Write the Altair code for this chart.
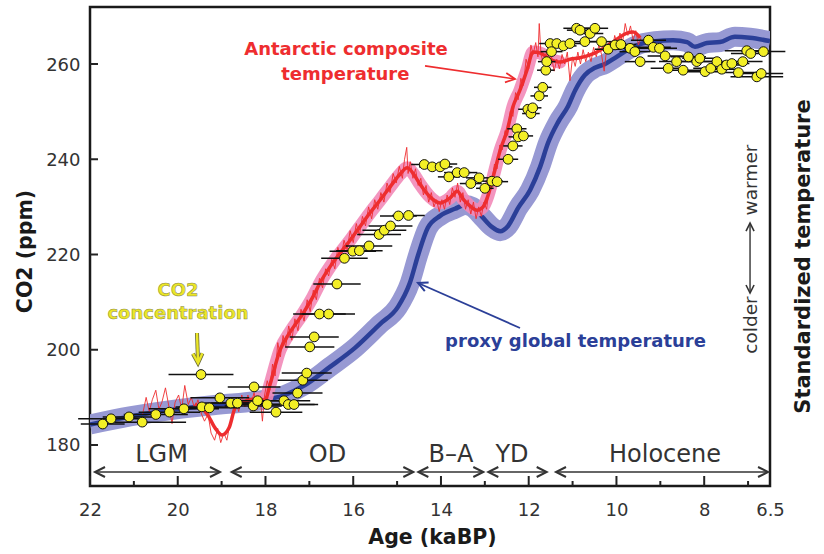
import altair as alt
import pandas as pd

FONT = "DejaVu Sans"

# ---------------- data ----------------
# CO2 concentration (ppm) and age uncertainty (+/- kyr)
co2_age = [21.71, 21.52, 21.11, 20.81, 20.50, 20.19, 19.86, 19.47, 19.45, 19.28, 19.04, 18.79,
           18.64, 18.26, 18.28, 18.18, 17.96, 17.76, 17.58, 17.48, 17.35, 17.27, 17.15, 17.06,
           16.99, 16.89, 16.77, 16.56, 16.37, 16.20, 16.01, 15.86, 15.64, 15.41, 15.29, 15.15, 14.97, 14.74,
           14.38, 14.20, 14.02, 13.91, 13.82, 13.63, 13.47, 13.32, 13.13, 13.00, 12.84, 12.72,
           12.47, 12.36, 12.27, 12.24, 12.12, 12.02, 11.95, 11.91, 11.76, 11.68, 11.61, 11.59,
           11.51, 11.48, 11.36, 11.21, 11.06, 10.91,
           10.83, 10.72, 10.60, 10.49, 10.34, 10.19, 10.03, 9.90, 9.69, 9.58, 9.46, 9.27, 9.16, 9.02,
           8.89, 8.82, 8.63, 8.48, 8.36, 8.17, 8.10, 7.98, 7.85, 7.71, 7.60, 7.49, 7.37, 7.22, 7.12,
           7.03, 6.94, 6.80, 6.70, 6.65]
co2_ppm = [184.4, 185.5, 185.9, 184.8, 186.4, 186.9, 187.6, 194.8, 188.0, 187.8, 189.9, 188.8,
           188.8, 192.2, 188.2, 189.3, 188.5, 186.9, 189.3, 188.5, 188.5, 190.9, 193.6, 195.1,
           200.6, 202.7, 207.5, 207.5, 213.8, 219.2, 220.7, 220.8, 221.8, 224.2, 225.1, 226.0, 228.1, 228.2,
           238.9, 238.4, 238.4, 239.0, 236.3, 237.2, 237.2, 234.9, 236.1, 233.9, 235.4, 235.3,
           240.0, 242.8, 246.4, 244.7, 244.9, 250.5, 249.6, 250.8, 253.3, 255.1, 258.7, 260.5,
           264.3, 262.6, 264.3, 263.8, 264.3, 267.5,
           267.1, 264.7, 266.4, 267.5, 264.7, 263.1, 264.0, 264.1, 263.3, 262.6, 260.5, 265.0, 263.5, 263.3,
           261.7, 259.1, 260.5, 258.7, 261.5, 260.5, 261.2, 258.4, 259.1, 260.5, 258.9, 259.8, 260.1, 258.2, 260.5,
           262.8, 262.2, 257.3, 258.0, 262.6]
co2_err = [0.5, 0.75, 0.6, 1.0, 0.73, 0.7, 0.8, 0.74, 0.6, 0.7, 0.67, 0.6,
           0.6, 0.6, 0.65, 0.6, 0.65, 0.6, 0.6, 0.6, 0.55, 0.57, 0.57, 0.57,
           0.56, 0.56, 0.6, 0.6, 0.54, 0.53, 0.53, 0.53, 0.53, 0.5, 0.5, 0.5, 0.42, 0.37,
           0.3, 0.3, 0.28, 0.28, 0.25, 0.3, 0.3, 0.25, 0.3, 0.2, 0.25, 0.25,
           0.23, 0.22, 0.22, 0.22, 0.22, 0.22, 0.2, 0.2, 0.2, 0.2, 0.2, 0.2,
           0.25, 0.25, 0.28, 0.3, 0.3, 0.3,
           0.3, 0.3, 0.3, 0.3, 0.3, 0.3, 0.35, 0.35, 0.35, 0.35, 0.35, 0.4, 0.4, 0.4,
           0.4, 0.4, 0.4, 0.4, 0.4, 0.4, 0.4, 0.4, 0.4, 0.4, 0.4, 0.4, 0.4, 0.45, 0.45,
           0.5, 0.45, 0.6, 0.5, 0.5]

# proxy global temperature (drawn on the CO2 scale)
glob_age = [22.00, 21.09, 19.95, 19.04, 18.24, 17.56, 17.10, 16.53, 15.96, 15.39, 14.98, 14.71,
            14.52, 14.30, 14.02, 13.68, 13.45, 13.29, 13.06, 12.84, 12.65, 12.47, 12.24, 11.97,
            11.74, 11.56, 11.33, 11.10, 10.94, 10.72, 10.49, 10.26, 10.03, 9.76, 9.46, 9.12,
            8.71, 8.39, 8.21, 7.94, 7.64, 7.30, 6.96, 6.50]
glob_val = [184.3, 186.0, 187.6, 188.5, 189.2, 190.5, 192.6, 196.4, 200.4, 205.4, 209.0, 214.0,
            219.9, 225.6, 228.1, 229.6, 230.4, 230.0, 227.9, 225.8, 224.9, 226.0, 229.8, 233.5,
            238.4, 243.4, 247.8, 251.2, 254.5, 257.7, 259.2, 260.0, 261.3, 262.9, 264.2, 264.8,
            265.0, 264.6, 263.6, 264.4, 264.6, 265.7, 265.5, 264.8]

# Antarctic composite temperature, smoothed
ant_age = [19.61, 19.33, 19.15, 18.99, 18.83, 18.69, 18.47, 18.17, 18.01, 17.90, 17.67, 17.44,
           17.14, 16.92, 16.76, 16.53, 16.30, 16.07, 15.85, 15.62, 15.39, 15.16, 14.93, 14.77,
           14.64, 14.48, 14.25, 14.02, 13.79, 13.63, 13.50, 13.34, 13.18, 13.04, 12.93, 12.81,
           12.65, 12.49, 12.36, 12.20, 12.04, 11.90, 11.74, 11.51, 11.29, 11.06, 10.83, 10.60,
           10.37, 10.08, 9.76, 9.62, 9.46]
ant_val = [188.6, 186.5, 183.6, 182.1, 183.6, 187.8, 189.2, 189.7, 189.4, 192.6, 199.9, 203.7,
           207.7, 211.1, 214.0, 217.4, 220.3, 223.0, 225.8, 228.7, 231.4, 234.2, 236.9, 238.2,
           237.1, 234.8, 232.1, 230.8, 231.9, 233.3, 231.7, 230.2, 229.3, 230.0, 232.3, 236.3,
           241.9, 246.1, 251.0, 254.5, 258.7, 262.5, 262.3, 261.0, 260.4, 261.0, 261.3, 261.9,
           262.9, 264.6, 266.5, 266.7, 265.5]

# Antarctic composite, high-resolution record
antf_age = [20.80, 20.72, 20.65, 20.58, 20.50, 20.43, 20.36, 20.28, 20.20, 20.13, 20.06, 19.98,
            19.91, 19.84, 19.76, 19.69, 19.61, 19.54, 19.46, 19.39, 19.31, 19.24, 19.16, 19.09,
            19.02, 18.95, 18.88, 18.81, 18.74, 18.68, 18.61, 18.54, 18.47, 18.40, 18.33, 18.26,
            18.19, 18.12, 18.07, 18.02, 17.96, 17.90, 17.84, 17.78, 17.72, 17.66, 17.60, 17.54,
            17.47, 17.40, 17.33, 17.26, 17.19, 17.12, 17.05, 16.98, 16.91, 16.84, 16.77, 16.70,
            16.63, 16.56, 16.49, 16.42, 16.35, 16.28, 16.21, 16.14, 16.07, 16.00, 15.93, 15.86,
            15.79, 15.72, 15.65, 15.58, 15.51, 15.44, 15.37, 15.30, 15.23, 15.16, 15.09, 15.02,
            14.95, 14.88, 14.83, 14.78, 14.75, 14.70, 14.64, 14.58, 14.52, 14.46, 14.40, 14.34,
            14.28, 14.22, 14.16, 14.10, 14.04, 13.98, 13.92, 13.86, 13.80, 13.74, 13.68, 13.62,
            13.56, 13.50, 13.44, 13.38, 13.32, 13.26, 13.20, 13.14, 13.08, 13.02, 12.96, 12.90,
            12.84, 12.78, 12.72, 12.66, 12.60, 12.54, 12.48, 12.42, 12.36, 12.30, 12.24, 12.18,
            12.12, 12.06, 12.00, 11.95, 11.90, 11.84, 11.79, 11.76, 11.72, 11.66, 11.60, 11.54,
            11.48, 11.42, 11.36, 11.30, 11.24, 11.18, 11.12, 11.06, 11.00, 10.94, 10.88, 10.82,
            10.76, 10.70, 10.64, 10.58, 10.52, 10.46, 10.40, 10.34, 10.28, 10.22, 10.16, 10.10,
            10.04, 9.98, 9.92, 9.86, 9.80, 9.74, 9.68, 9.62, 9.56, 9.50, 9.44]
antf_val = [186.5, 190.0, 187.0, 189.5, 191.5, 187.5, 189.0, 192.0, 188.0, 184.5, 189.0, 190.5,
            187.5, 192.5, 188.5, 190.0, 187.5, 189.5, 186.5, 185.0, 186.5, 182.5, 181.0, 183.5,
            180.5, 182.5, 181.0, 184.5, 186.5, 189.5, 187.0, 190.5, 188.0, 190.5, 188.5, 191.0,
            187.5, 190.0, 185.0, 190.5, 193.5, 191.5, 197.0, 194.5, 201.5, 198.5, 203.0, 200.5,
            205.0, 202.0, 206.5, 204.0, 208.5, 206.0, 210.5, 208.0, 212.5, 210.5, 215.0, 213.0,
            217.0, 215.5, 219.0, 217.0, 221.5, 219.0, 223.0, 221.0, 225.0, 222.5, 226.5, 224.0,
            228.0, 226.0, 230.0, 227.5, 231.5, 229.5, 233.0, 231.0, 235.0, 233.0, 237.0, 235.0,
            238.5, 236.0, 240.0, 242.5, 237.0, 239.5, 236.0, 238.0, 234.5, 236.0, 232.5, 234.5,
            231.0, 233.0, 230.0, 231.5, 229.0, 231.5, 229.5, 232.5, 230.5, 234.0, 232.0, 235.0,
            231.0, 233.0, 229.5, 231.5, 228.5, 231.0, 227.5, 230.0, 228.0, 231.0, 229.5, 234.0,
            235.5, 239.0, 238.0, 243.0, 242.0, 246.0, 245.0, 250.0, 249.0, 254.0, 252.5, 257.0,
            255.5, 261.0, 259.0, 264.0, 262.0, 264.5, 261.5, 268.5, 262.0, 260.0, 262.5, 259.5,
            261.5, 258.5, 261.0, 259.0, 262.0, 260.0, 262.5, 256.5, 261.5, 259.5, 262.5, 260.0,
            263.0, 260.5, 262.5, 260.5, 263.5, 261.5, 264.0, 262.0, 258.5, 263.5, 264.5, 262.5,
            266.0, 264.0, 266.5, 264.5, 268.5, 266.0, 268.0, 265.0, 267.0, 264.0, 265.5]

# climate periods
period_names = ["LGM", "OD", "B\u2013A", "YD", "Holocene"]
period_start = [21.886, 18.770, 14.516, 12.921, 11.378]
period_end = [19.037, 14.630, 13.035, 11.590, 6.545]
period_mid = [20.37, 16.586, 13.771, 12.381, 8.893]

x_label_vals = [22, 20, 18, 16, 14, 12, 10, 8, 6.5]
x_major = [22, 20, 18, 16, 14, 12, 10, 8]
x_minor = [21, 19, 17, 15, 13, 11, 9, 7]
y_tick_vals = [180, 200, 220, 240, 260]

Y_LO, Y_HI = 171.39, 271.97

# ---------------- frames ----------------
pts = pd.DataFrame({"age": co2_age, "val": co2_ppm, "err": co2_err})
pts["lo"] = pts["age"] - pts["err"]
pts["hi"] = pts["age"] + pts["err"]
glob = pd.DataFrame({"age": glob_age, "val": glob_val})
ant = pd.DataFrame({"age": ant_age, "val": ant_val})
pink = ant[(ant["age"] <= 18.2) & (ant["age"] >= 11.25)]
antf = pd.DataFrame({"age": antf_age, "val": antf_val})

xs = alt.Scale(domain=[6.5, 22], reverse=True, nice=False, zero=False)
ys = alt.Scale(domain=[Y_LO, Y_HI], nice=False, zero=False)

x_axis = alt.Axis(values=x_label_vals, format="~g", title="Age (kaBP)", grid=False, domain=False,
                  ticks=False, tickSize=0, labelPadding=15, labelFont=FONT, labelFontSize=18,
                  labelColor="#333333", labelFlush=False, labelOverlap=False,
                  titleFont=FONT, titleFontSize=20.5, titleFontWeight="bold", titleColor="#1a1a1a",
                  titleX=342, titleY=57, titleBaseline="alphabetic", titleAlign="center")
y_axis = alt.Axis(values=y_tick_vals, title="CO2 (ppm)", grid=False, domain=False, ticks=False,
                  tickSize=0, labelPadding=10, labelFont=FONT, labelFontSize=18, labelColor="#333333",
                  labelOverlap=False, labelFlush=False, labelOffset=1,
                  titleFont=FONT, titleFontSize=20.5, titleFontWeight="bold", titleColor="#1a1a1a",
                  titleAngle=270, titleX=-58.5, titleY=244, titleBaseline="alphabetic", titleAlign="center")


def X(f="age"):
    return alt.X(f"{f}:Q", scale=xs, axis=x_axis, title="Age (kaBP)")


def Y(f="val"):
    return alt.Y(f"{f}:Q", scale=ys, axis=y_axis, title="CO2 (ppm)")


CHEV = "M-1,-0.5L0,0L-1,0.5"

blue_band = alt.Chart(glob).mark_line(color="#9799d3", strokeWidth=20, interpolate="monotone",
                                      clip=True, strokeCap="butt").encode(x=X(), y=Y())
blue_line = alt.Chart(glob).mark_line(color="#2b3f98", strokeWidth=4.5, interpolate="monotone",
                                      clip=True).encode(x=X(), y=Y())
pink_band = alt.Chart(pink).mark_line(color="#f28ab8", strokeWidth=13, interpolate="monotone",
                                      opacity=0.9, strokeCap="round").encode(x=X(), y=Y())
red_fine = alt.Chart(antf).mark_line(color="#ee2d2f", strokeWidth=0.9).encode(x=X(), y=Y())
red_line = alt.Chart(ant).mark_line(color="#ee2d2f", strokeWidth=3.5, interpolate="monotone").encode(x=X(), y=Y())

errbars = alt.Chart(pts).mark_rule(color="#111111", strokeWidth=1.5).encode(
    x=X("lo"), x2="hi:Q", y=Y())

points = alt.Chart(pts).mark_circle(size=95, color="#f3ef26", stroke="#111111", strokeWidth=1,
                                    opacity=1).encode(x=X(), y=Y())

# inward ticks
tk_major = pd.DataFrame({"age": x_major, "y0": Y_LO, "y1": Y_LO + 10 / 4.7625})
tk_minor = pd.DataFrame({"age": x_minor, "y0": Y_LO, "y1": Y_LO + 5 / 4.7625})
tk_y = pd.DataFrame({"val": y_tick_vals, "x0": 22.0, "x1": 22.0 - 8 / 43.87})
ticks_major = alt.Chart(tk_major).mark_rule(color="#222222", strokeWidth=2).encode(
    x=X(), y=Y("y0"), y2="y1:Q")
ticks_minor = alt.Chart(tk_minor).mark_rule(color="#222222", strokeWidth=2).encode(
    x=X(), y=Y("y0"), y2="y1:Q")
ticks_y = alt.Chart(tk_y).mark_rule(color="#222222", strokeWidth=2).encode(
    x=X("x0"), x2="x1:Q", y=Y())

# period arrows
ARROW_Y = 174.33
per = pd.DataFrame({"name": period_names, "s": period_start, "e": period_end,
                    "mid": period_mid, "y": ARROW_Y, "ly": 176.43})
per_rules = alt.Chart(per).mark_rule(color="#333333", strokeWidth=1.5).encode(
    x=X("s"), x2="e:Q", y=Y("y"))
heads = pd.DataFrame({"age": period_start + period_end,
                      "val": [ARROW_Y] * 10,
                      "ang": [180] * 5 + [0] * 5})
per_heads = alt.Chart(heads).mark_point(shape=CHEV, filled=False, size=400, color="#333333",
                                        strokeWidth=2, opacity=1).encode(
    x=X(), y=Y(), angle=alt.Angle("ang:Q", scale=None))
per_text = alt.Chart(per).mark_text(font=FONT, fontSize=24, color="#333333", align="center",
                                    baseline="alphabetic").encode(
    x=X("mid"), y=Y("ly"), text="name:N")

# annotations
red_txt = pd.DataFrame({"age": [16.165, 16.18], "val": [261.9, 256.6],
                        "t": ["Antarctic composite", "temperature"]})
red_label = alt.Chart(red_txt).mark_text(font=FONT, fontSize=18, fontWeight="bold", color="#ee2d2f",
                                         align="center", baseline="alphabetic").encode(
    x=X(), y=Y(), text="t:N")
red_arr = pd.DataFrame({"a": [14.364], "a2": [12.312], "v": [259.6], "v2": [256.85]})
red_arrow = alt.Chart(red_arr).mark_rule(color="#ee2d2f", strokeWidth=1.6).encode(
    x=X("a"), x2="a2:Q", y=Y("v"), y2="v2:Q")
red_head = alt.Chart(pd.DataFrame({"age": [12.312], "val": [256.85], "ang": [8.2]})).mark_point(
    shape=CHEV, filled=False, size=360, color="#ee2d2f", strokeWidth=1.8, opacity=1).encode(
    x=X(), y=Y(), angle=alt.Angle("ang:Q", scale=None))

blue_txt = pd.DataFrame({"age": [10.933], "val": [200.6], "t": ["proxy global temperature"]})
blue_label = alt.Chart(blue_txt).mark_text(font=FONT, fontSize=18, fontWeight="bold", color="#2b3f98",
                                           align="center", baseline="alphabetic").encode(
    x=X(), y=Y(), text="t:N")
blue_arr = pd.DataFrame({"a": [12.198], "a2": [14.523], "v": [204.57], "v2": [214.02]})
blue_arrow = alt.Chart(blue_arr).mark_rule(color="#2b3f98", strokeWidth=1.8).encode(
    x=X("a"), x2="a2:Q", y=Y("v"), y2="v2:Q")
blue_head = alt.Chart(pd.DataFrame({"age": [14.523], "val": [214.02], "ang": [203.8]})).mark_point(
    shape=CHEV, filled=False, size=360, color="#2b3f98", strokeWidth=2, opacity=1).encode(
    x=X(), y=Y(), angle=alt.Angle("ang:Q", scale=None))

yel_txt = pd.DataFrame({"age": [19.994, 19.994], "val": [211.29, 206.46],
                        "t": ["CO2", "concentration"]})
yel_label = alt.Chart(yel_txt).mark_text(font=FONT, fontSize=18, fontWeight="bold", color="#ebe628",
                                         stroke="#6b6b3a", strokeWidth=0.5, strokeOpacity=0.8,
                                         align="center", baseline="alphabetic").encode(
    x=X(), y=Y(), text="t:N")
yel_arr = pd.DataFrame({"a": [19.561], "a2": [19.538], "v": [203.52], "v2": [197.6]})
yel_arrow_bg = alt.Chart(yel_arr).mark_rule(color="#6b6b3a", strokeWidth=4).encode(
    x=X("a"), x2="a2:Q", y=Y("v"), y2="v2:Q")
yel_arrow = alt.Chart(yel_arr).mark_rule(color="#ebe628", strokeWidth=2.4).encode(
    x=X("a"), x2="a2:Q", y=Y("v"), y2="v2:Q")
yel_head_df = pd.DataFrame({"age": [19.538], "val": [197.22], "ang": [88.0]})
yel_head_bg = alt.Chart(yel_head_df).mark_point(shape=CHEV, filled=False, size=360, color="#6b6b3a",
                                                strokeWidth=4, opacity=1).encode(
    x=X(), y=Y(), angle=alt.Angle("ang:Q", scale=None))
yel_head = alt.Chart(yel_head_df).mark_point(shape=CHEV, filled=False, size=360, color="#ebe628",
                                             strokeWidth=2.4, opacity=1).encode(
    x=X(), y=Y(), angle=alt.Angle("ang:Q", scale=None))

# right-hand labels
side_txt = pd.DataFrame({"age": [6.796, 6.796], "val": [205.2, 235.64], "t": ["colder", "warmer"]})
side_label = alt.Chart(side_txt).mark_text(font=FONT, fontSize=18.5, color="#333333", angle=270,
                                           align="center", baseline="alphabetic").encode(
    x=X(), y=Y(), text="t:N")
side_arr = pd.DataFrame({"a": [6.955], "v": [211.9], "v2": [226.6]})
side_arrow = alt.Chart(side_arr).mark_rule(color="#333333", strokeWidth=1.4).encode(
    x=X("a"), y=Y("v"), y2="v2:Q")
side_heads = alt.Chart(pd.DataFrame({"age": [6.955, 6.955], "val": [226.6, 211.9],
                                     "ang": [270, 90]})).mark_point(
    shape=CHEV, filled=False, size=260, color="#333333", strokeWidth=1.6, opacity=1).encode(
    x=X(), y=Y(), angle=alt.Angle("ang:Q", scale=None))
std_label = alt.Chart(pd.DataFrame({"age": [5.588], "val": [219.58],
                                    "t": ["Standardized temperature"]})).mark_text(
    font=FONT, fontSize=21, fontWeight="bold", color="#1a1a1a", angle=270, align="center",
    baseline="alphabetic").encode(x=X(), y=Y(), text="t:N")

chart = alt.layer(
    blue_band, blue_line, pink_band, red_fine, red_line, errbars, points,
    ticks_major, ticks_minor, ticks_y, per_rules, per_heads, per_text,
    red_label, red_arrow, red_head, blue_label, blue_arrow, blue_head,
    yel_label, yel_arrow_bg, yel_head_bg, yel_arrow, yel_head,
    side_label, side_arrow, side_heads, std_label,
).properties(
    width=680, height=479,
    padding={"left": 90, "top": 7, "right": 54, "bottom": 68},
    autosize=alt.AutoSizeParams(type="none"),
    background="white",
).configure_view(stroke="#1a1a1a", strokeWidth=2.5)

chart.save("out.html", embed_options={"renderer": "svg", "actions": False})
